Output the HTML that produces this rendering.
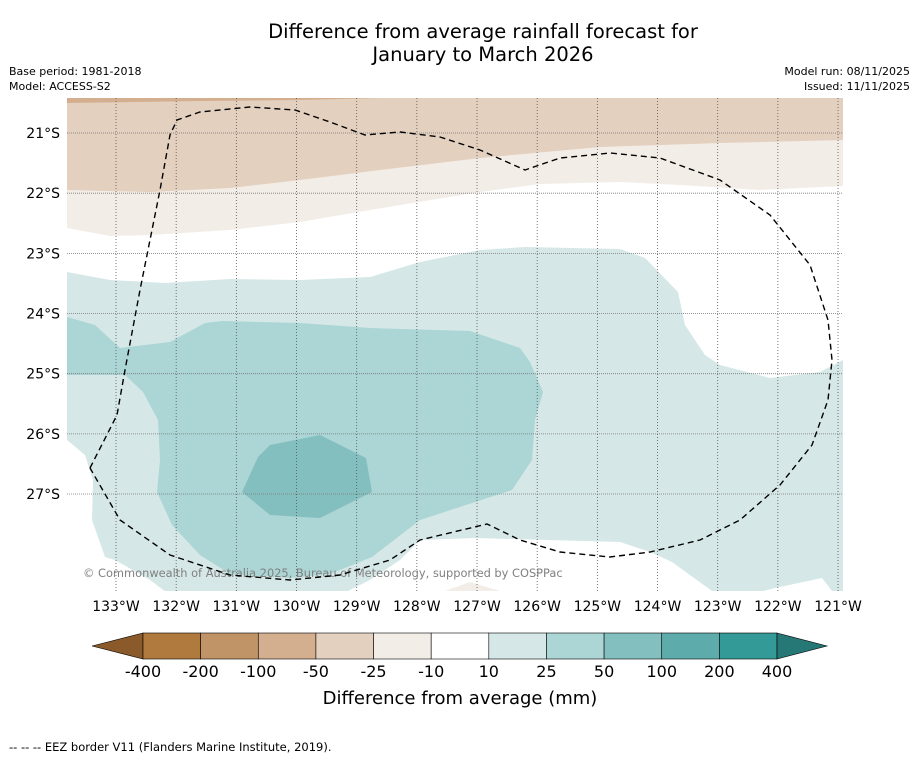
<!DOCTYPE html>
<html><head><meta charset="utf-8"><style>
body{margin:0;background:#fff;font-family:"Liberation Sans","DejaVu Sans",sans-serif}
svg text{font-family:"DejaVu Sans","Liberation Sans",sans-serif}
</style></head><body>
<svg id="chart" width="919" height="758" viewBox="0 0 919 758" xmlns="http://www.w3.org/2000/svg">
<rect width="919" height="758" fill="#fff"/>
<text x="483" y="38" font-size="19.5" text-anchor="middle">Difference from average rainfall forecast for</text>
<text x="483" y="61" font-size="19.5" text-anchor="middle">January to March 2026</text>
<text x="9" y="75" font-size="11">Base period: 1981-2018</text>
<text x="9" y="90" font-size="11">Model: ACCESS-S2</text>
<text x="910" y="75" font-size="11" text-anchor="end">Model run: 08/11/2025</text>
<text x="910" y="90" font-size="11" text-anchor="end">Issued: 11/11/2025</text>
<defs><clipPath id="mapclip"><rect x="67" y="98" width="776" height="493"/></clipPath></defs>
<g id="map" clip-path="url(#mapclip)">
<rect x="67" y="98" width="776" height="493" fill="#fff"/>
<polygon fill="#f2ede7" points="67,98 843,98 843,186 760,190 680,185 620,182 540,184 480,192 400,205 300,222 230,230 150,235 110,236 67,228"/>
<polygon fill="#e3d0bf" points="67,98 843,98 843,140 720,143 600,147 480,158 380,170 300,180 230,188 150,192 67,190"/>
<polygon fill="#d4af8f" points="67,98 380,98 300,100 200,101 67,103"/>
<polygon fill="#d5e8e7" points="67,272 110,280 165,283 230,279 300,280 370,277 420,262 480,250 525,247 620,249 645,258 678,292 685,325 705,355 720,365 770,378 820,372 843,360 843,591 832,591 822,578 775,588 763,591 712,591 672,562 650,552 620,542 475,538 420,540 400,560 370,580 340,595 170,595 150,580 115,560 105,557 92,520 93,480 85,455 67,440"/>
<polygon fill="#f2ede7" points="445,591 470,582 500,591"/>
<polygon fill="#acd5d5" points="67,317 95,325 120,348 170,342 205,323 222,321 300,323 370,328 470,331 520,348 530,362 543,392 535,420 532,460 512,490 420,520 372,557 330,574 290,578 230,574 200,555 172,525 157,492 160,460 158,420 143,392 125,375 67,375"/>
<polygon fill="#84bfbf" points="242,492 258,457 270,445 320,435 366,458 372,492 320,518 270,515"/>
<g id="grid"></g>
<text x="83" y="577" font-size="11.4" fill="#808080">© Commonwealth of Australia 2025, Bureau of Meteorology, supported by COSPPac</text>
<polyline fill="none" stroke="#000" stroke-width="1.4" stroke-dasharray="6,4" points="90,468 117,415 125,370 140,290 160,190 170,135 177,120 200,112 250,107 295,110 330,122 365,135 400,132 440,137 480,150 525,170 560,158 610,153 660,158 720,180 770,215 810,265 828,320 832,360 828,400 812,445 780,485 740,520 700,540 650,552 610,557 560,552 520,540 487,524 420,540 390,560 340,575 290,580 230,575 170,555 120,520 90,468"/>
</g>
<g id="axes"></g>
<g id="cbar"></g>
<text x="460" y="704" font-size="18" text-anchor="middle">Difference from average (mm)</text>
<text x="9" y="751" font-size="11.5">--  --  -- EEZ border V11 (Flanders Marine Institute, 2019).</text>
</svg>
<script>
const lonLabels=["133°W","132°W","131°W","130°W","129°W","128°W","127°W","126°W","125°W","124°W","123°W","122°W","121°W"];
const latLabels=["21°S","22°S","23°S","24°S","25°S","26°S","27°S"];
const cbLabels=["-400","-200","-100","-50","-25","-10","10","25","50","100","200","400"];
const cbColors=["#b07a3e","#c19468","#d4af8f","#e3d0bf","#f2ede7","#ffffff","#d5e8e7","#acd5d5","#84bfbf","#5eabab","#349a98"];
const NS="http://www.w3.org/2000/svg";
function mk(t,a,p){const e=document.createElementNS(NS,t);for(const k in a)e.setAttribute(k,a[k]);p.appendChild(e);return e;}
const xLon=i=>116+i*60.17, yLat=j=>133+j*60.17;
const grid=document.getElementById('grid'),axes=document.getElementById('axes'),cbar=document.getElementById('cbar');
lonLabels.forEach((l,i)=>{
 const g=mk('line',{x1:xLon(i),x2:xLon(i),y1:98,y2:591,stroke:'#555','stroke-width':0.8,'stroke-dasharray':'1,2'},grid);
 
 
 const t=mk('text',{x:xLon(i),y:611,'font-size':14,'text-anchor':'middle'},axes);t.textContent=l;
 
 
});
latLabels.forEach((l,j)=>{
 const g=mk('line',{x1:67,x2:843,y1:yLat(j),y2:yLat(j),stroke:'#777','stroke-width':0.8,'stroke-dasharray':'1,1'},grid);
 
 
 const t=mk('text',{x:60,y:yLat(j)+5,'font-size':14,'text-anchor':'end'},axes);t.textContent=l;
 
 
});
const x0=143,bw=(777-143)/cbColors.length,y0=633,h=26;
let a=mk('polygon',{points:`92,${y0+h/2} ${x0},${y0} ${x0},${y0+h}`,fill:'#8a5a2a',stroke:'#000','stroke-width':0.6},cbar);


cbColors.forEach((c,i)=>{
 const r=mk('rect',{x:x0+i*bw,y:y0,width:bw,height:h,fill:c,stroke:'#000','stroke-width':0.6},cbar);
 
 
});
a=mk('polygon',{points:`${x0+cbColors.length*bw},${y0} 827,${y0+h/2} ${x0+cbColors.length*bw},${y0+h}`,fill:'#257876',stroke:'#000','stroke-width':0.6},cbar);


cbLabels.forEach((l,i)=>{
 const t=mk('text',{x:x0+i*bw,y:677,'font-size':16,'text-anchor':'middle'},cbar);t.textContent=l;
 
 
});
</script>
</body></html>
